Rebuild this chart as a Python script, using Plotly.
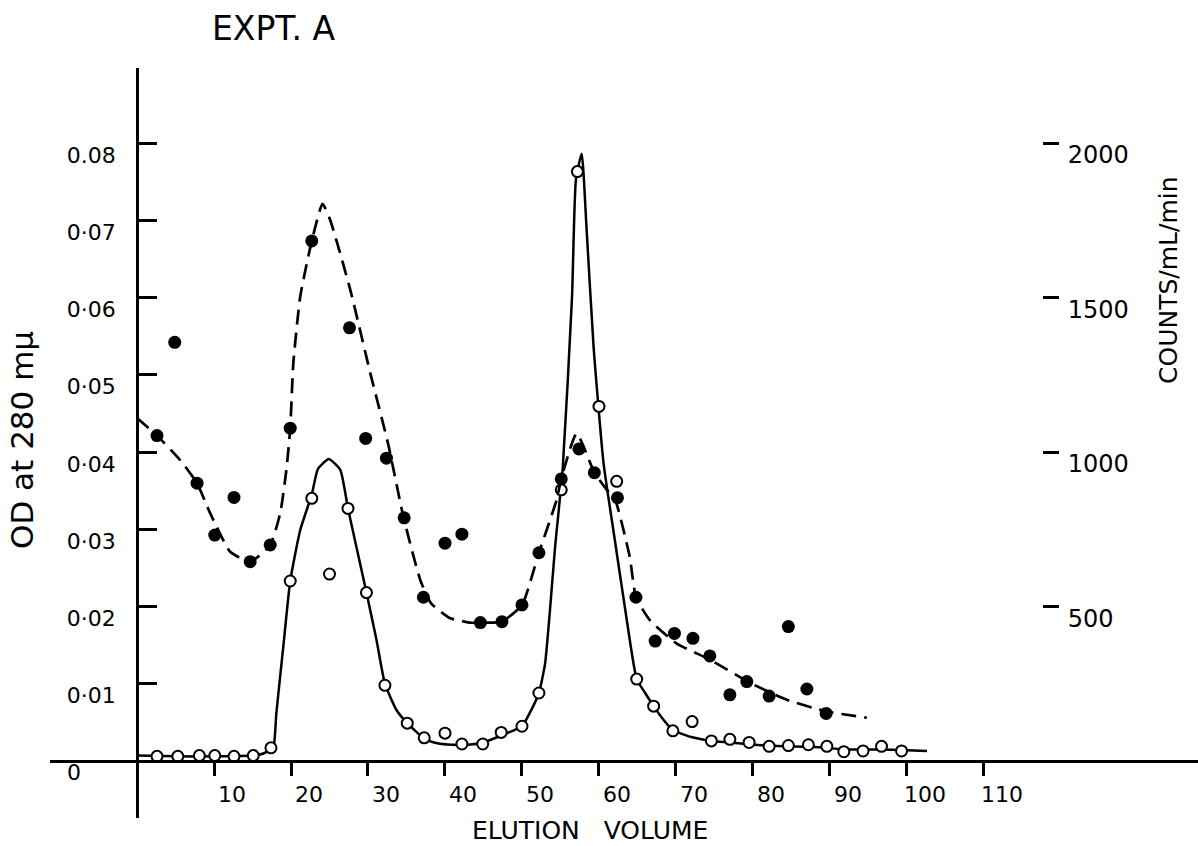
import plotly.graph_objects as go

# ---------------- data ----------------
# Open circles: optical density at 280 mμ (left axis)
od_x = [2.6, 5.3, 8.1, 10.1, 12.6, 15.1, 17.4, 19.9, 22.7, 25.0,
        27.4, 29.8, 32.2, 35.1, 37.3, 40.0, 42.2, 44.9, 47.3, 50.0,
        52.2, 55.1, 57.2, 60.0, 62.3, 64.9, 67.1, 69.6, 72.1, 74.6,
        77.0, 79.5, 82.1, 84.6, 87.2, 89.6, 91.8, 94.3, 96.7, 99.3]
od_y = [0.0006, 0.0006, 0.0007, 0.0007, 0.0006, 0.0007, 0.0017, 0.0233, 0.0340, 0.0242,
        0.0327, 0.0218, 0.0098, 0.0049, 0.0030, 0.0036, 0.0022, 0.0022, 0.0037, 0.0045,
        0.0088, 0.0351, 0.0763, 0.0459, 0.0362, 0.0106, 0.0071, 0.0039, 0.0051, 0.0026,
        0.0028, 0.0024, 0.0019, 0.0020, 0.0021, 0.0019, 0.0012, 0.0013, 0.0019, 0.0013]

# Hand-drawn solid curve through the OD points
od_curve_x = [0, 5, 10, 15, 16.5, 17.4, 17.8, 18.1, 19.0, 19.9,
              21.2, 22.7, 23.5, 24.9, 26.4, 27.4, 28.5, 29.8, 31.1, 32.2,
              33.7, 35.1, 37.3, 39, 41, 43, 45, 47.3, 50.0, 51.0,
              52.2, 53.0, 53.6, 54.3, 55.3, 56.5, 57.0, 57.75, 58.4, 59.3,
              60.6, 62.0, 63.5, 64.9, 66.0, 67.1, 68.4, 69.6, 72, 74.6,
              77, 80, 84, 88, 92, 96, 100, 102.6]
od_curve_y = [0.0007, 0.0006, 0.0006, 0.0007, 0.0010, 0.0016, 0.0023, 0.0062, 0.0148, 0.0233,
              0.0299, 0.0345, 0.0378, 0.0391, 0.0377, 0.0327, 0.0277, 0.0218, 0.0157, 0.0100,
              0.0066, 0.0049, 0.0029, 0.0023, 0.0021, 0.0021, 0.0024, 0.0033, 0.0045, 0.0062,
              0.0088, 0.0126, 0.0191, 0.0277, 0.0380, 0.0601, 0.0752, 0.0786, 0.0687, 0.0536,
              0.0385, 0.0290, 0.0190, 0.0106, 0.0088, 0.0071, 0.0053, 0.0040, 0.0031, 0.0026,
              0.0024, 0.0021, 0.0019, 0.0018, 0.0015, 0.0015, 0.0014, 0.0013]

# Filled circles: counts/mL/min (right axis)
cnt_x = [2.6, 4.9, 7.8, 10.1, 12.6, 14.7, 17.3, 19.9, 22.7, 27.6,
         29.7, 32.4, 34.7, 37.2, 40.0, 42.2, 44.6, 47.4, 50.0, 52.2,
         55.1, 57.4, 59.4, 62.4, 64.8, 67.3, 69.8, 72.2, 74.4, 77.0,
         79.2, 82.1, 84.6, 87.0, 89.5]
cnt_y = [1053, 1355, 899, 731, 853, 645, 699, 1077, 1683, 1402,
         1044, 980, 787, 530, 705, 734, 448, 451, 505, 674,
         913, 1010, 933, 852, 530, 388, 413, 397, 340, 214,
         257, 210, 435, 233, 154]

# Hand-drawn dashed curve through the counts
cnt_curve_x = [0, 2.6, 5.6, 7.8, 9.5, 12.1, 14.7, 17.3, 18.6, 19.4,
               19.9, 20.3, 21.2, 22.7, 24.1, 25.1, 27.7, 30.3, 32.6, 34.6,
               36.8, 38.2, 40.6, 43.2, 45.5, 47.4, 50.0, 52.2, 54.5, 55.1,
               57.1, 59.4, 61.0, 62.1, 64.0, 64.8, 66.6, 70.1, 74.4, 79.6,
               84.4, 89.6, 94.8]
cnt_curve_y = [1110, 1053, 974, 899, 802, 677, 645, 699, 802, 942,
               1077, 1287, 1503, 1683, 1803, 1750, 1525, 1255, 1028, 790,
               585, 510, 463, 448, 448, 451, 505, 674, 845, 913,
               1060, 933, 878, 845, 660, 530, 456, 380, 328, 253,
               198, 160, 140]

x_ticks = [10, 20, 30, 40, 50, 60, 70, 80, 90, 100, 110]
x_ticktext = ["10", "20", "30", "40", "50", "60", "70", "80", "90", "100", "110"]
y_ticks = [0.01, 0.02, 0.03, 0.04, 0.05, 0.06, 0.07, 0.08]
y_ticktext = ["0·01", "0·02", "0·03", "0·04", "0·05", "0·06", "0·07", "0.08"]
y2_ticks = [500, 1000, 1500, 2000]
y2_ticktext = ["500", "1000", "1500", "2000"]

# ---------------- layout geometry ----------------
W, H = 1198, 846
ML, MR, MT, MB = 50, 0, 68, 28
PW, PH = W - ML - MR, H - MT - MB
X_RANGE = [-11.3, 137.8]
Y_RANGE = [-0.00738, 0.08971]
COUNTS_PER_OD = 25000
Y2_RANGE = [Y_RANGE[0] * COUNTS_PER_OD, Y_RANGE[1] * COUNTS_PER_OD]
FONT = "DejaVu Sans"


def px_x(p):
    return (p - ML) / PW


def px_y(p):
    return (H - MB - p) / PH


fig = go.Figure()
fig.add_trace(go.Scatter(
    x=od_curve_x, y=od_curve_y, mode="lines",
    line=dict(color="black", width=2.5, shape="spline", smoothing=0.5),
    hoverinfo="skip"))
fig.add_trace(go.Scatter(
    x=od_x, y=od_y, mode="markers",
    marker=dict(symbol="circle", size=11, color="white",
                line=dict(color="black", width=2))))
fig.add_trace(go.Scatter(
    x=cnt_curve_x, y=cnt_curve_y, yaxis="y2", mode="lines",
    line=dict(color="black", width=2.7, dash="15px,8px",
              shape="spline", smoothing=0.5),
    hoverinfo="skip"))
fig.add_trace(go.Scatter(
    x=cnt_x, y=cnt_y, yaxis="y2", mode="markers",
    marker=dict(symbol="circle", size=13, color="black")))

fig.update_layout(
    width=W, height=H,
    margin=dict(l=ML, r=MR, t=MT, b=MB, pad=0),
    paper_bgcolor="white", plot_bgcolor="white",
    showlegend=False,
    font=dict(family=FONT, color="black", size=22),
    xaxis=dict(
        range=X_RANGE, anchor="free", position=px_y(761),
        showline=True, linecolor="black", linewidth=2.5,
        ticks="outside", ticklen=13, tickwidth=2.5, tickcolor="black",
        tickvals=x_ticks, ticktext=x_ticktext, ticklabelshift=18,
        ticklabelstandoff=0,
        tickfont=dict(family=FONT, size=22),
        showgrid=False, zeroline=False),
    yaxis=dict(
        range=Y_RANGE, anchor="free", position=px_x(137),
        showline=True, linecolor="black", linewidth=2.5,
        ticks="inside", ticklen=18, tickwidth=2.5, tickcolor="black",
        tickvals=y_ticks, ticktext=y_ticktext,
        ticklabelshift=12, ticklabelstandoff=16,
        tickfont=dict(family=FONT, size=22),
        showgrid=False, zeroline=False),
    yaxis2=dict(
        range=Y2_RANGE, overlaying="y", side="right",
        anchor="free", position=px_x(1042),
        showline=False,
        ticks="outside", ticklen=16, tickwidth=2.5, tickcolor="black",
        tickvals=y2_ticks, ticktext=y2_ticktext,
        ticklabelshift=12, ticklabelstandoff=4,
        tickfont=dict(family=FONT, size=24),
        showgrid=False, zeroline=False),
    annotations=[
        dict(text="EXPT. A", xref="paper", yref="paper",
             x=px_x(210), y=px_y(28), xanchor="left", yanchor="middle",
             showarrow=False, font=dict(family=FONT, size=33)),
        dict(text="ELUTION\u00a0\u00a0\u00a0VOLUME", xref="paper", yref="paper",
             x=px_x(590), y=px_y(830), xanchor="center", yanchor="middle",
             showarrow=False, font=dict(family=FONT, size=25)),
        dict(text="OD\u00a0at\u00a0280\u00a0mμ", xref="paper", yref="paper",
             x=px_x(22), y=px_y(440), xanchor="center", yanchor="middle",
             textangle=-90, showarrow=False, font=dict(family=FONT, size=31)),
        dict(text="COUNTS/mL/min", xref="paper", yref="paper",
             x=px_x(1168), y=px_y(280), xanchor="center", yanchor="middle",
             textangle=-90, showarrow=False, font=dict(family=FONT, size=25)),
        dict(text="0", xref="paper", yref="paper",
             x=px_x(74), y=px_y(772), xanchor="center", yanchor="middle",
             showarrow=False, font=dict(family=FONT, size=22)),
    ],
)

fig.write_html("out.html", include_plotlyjs=True, config={"displayModeBar": False})
